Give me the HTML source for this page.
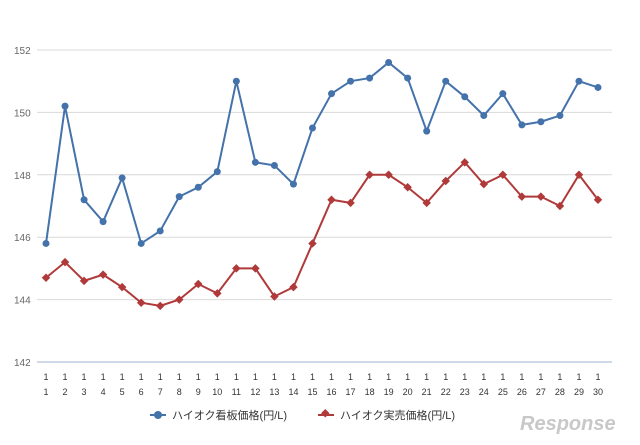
<!DOCTYPE html>
<html><head><meta charset="utf-8"><style>
body{margin:0;background:#fff;width:640px;height:440px;overflow:hidden;font-family:"Liberation Sans","Noto Sans CJK JP",sans-serif}
</style></head><body>
<svg id="chart" width="640" height="440" xmlns="http://www.w3.org/2000/svg" font-family="Liberation Sans, Noto Sans CJK JP, sans-serif">
<g id="grid"></g><g id="series"></g>
<g>
<g><line x1="150" y1="415" x2="166" y2="415" stroke="#4472aa" stroke-width="2"/><circle cx="158" cy="415" r="4" fill="#4472aa"/><text x="172" y="419" font-size="11" fill="#333">ハイオク看板価格(円/L)</text></g>
<g><line x1="318" y1="415" x2="334" y2="415" stroke="#b03a3a" stroke-width="2"/><rect x="322" y="411" width="6" height="6" fill="#b03a3a" transform="rotate(45 326 414)"/><text x="340" y="419" font-size="11" fill="#333">ハイオク実売価格(円/L)</text></g>
</g>
<text x="520" y="430" font-size="20" font-style="italic" font-weight="bold" fill="#c8c8c8">Response</text>
</svg>
<script>
const days=[1,2,3,4,5,6,7,8,9,10,11,12,13,14,15,16,17,18,19,20,21,22,23,24,25,26,27,28,29,30];
const signboard=[145.8,150.2,147.2,146.5,147.9,145.8,146.2,147.3,147.6,148.1,151.0,148.4,148.3,147.7,149.5,150.6,151.0,151.1,151.6,151.1,149.4,151.0,150.5,149.9,150.6,149.6,149.7,149.9,151.0,150.8];
const actual=[144.7,145.2,144.6,144.8,144.4,143.9,143.8,144.0,144.5,144.2,145.0,145.0,144.1,144.4,145.8,147.2,147.1,148.0,148.0,147.6,147.1,147.8,148.4,147.7,148.0,147.3,147.3,147.0,148.0,147.2];
const yTicks=[142,144,146,148,150,152];
const NS="http://www.w3.org/2000/svg";
function y(v){return 362-(v-142)*31.2;}
function x(i){return 46+i*(552/(days.length-1));}
const grid=document.getElementById('grid'),ser=document.getElementById('series');
function mk(tag,at,parent){const e=document.createElementNS(NS,tag);for(const k in at)e.setAttribute(k,at[k]);parent.appendChild(e);return e;}
yTicks.forEach(t=>{
 const l=mk('line',{x1:37,x2:612,y1:y(t),y2:y(t),stroke:t===142?'#9fb3cf':'#d9d9d9','stroke-width':1},grid);
 
 
 const tx=mk('text',{x:14,y:y(t)+4,'font-size':10,fill:'#666'},grid);tx.textContent=t;
 
 
});
days.forEach((d,i)=>{
 const a=mk('text',{x:x(i),y:380,'font-size':9,fill:'#333','text-anchor':'middle'},grid);a.textContent='1';
 
 
 const b=mk('text',{x:x(i),y:395,'font-size':9,fill:'#333','text-anchor':'middle'},grid);b.textContent=d;
 
 
});
function draw(vals,color,marker,name){
 const p=mk('polyline',{points:vals.map((v,i)=>x(i)+','+y(v)).join(' '),fill:'none',stroke:color,'stroke-width':2},ser);
 
 
 vals.forEach((v,i)=>{
  let m;
  if(marker==='c')m=mk('circle',{cx:x(i),cy:y(v),r:3.5,fill:color},ser);
  else m=mk('rect',{x:x(i)-3,y:y(v)-3,width:6,height:6,fill:color,transform:`rotate(45 ${x(i)} ${y(v)})`},ser);
  
  
 });
}
draw(actual,'#b03a3a','d','actual-price');
draw(signboard,'#4472aa','c','signboard-price');
</script>
</body></html>
